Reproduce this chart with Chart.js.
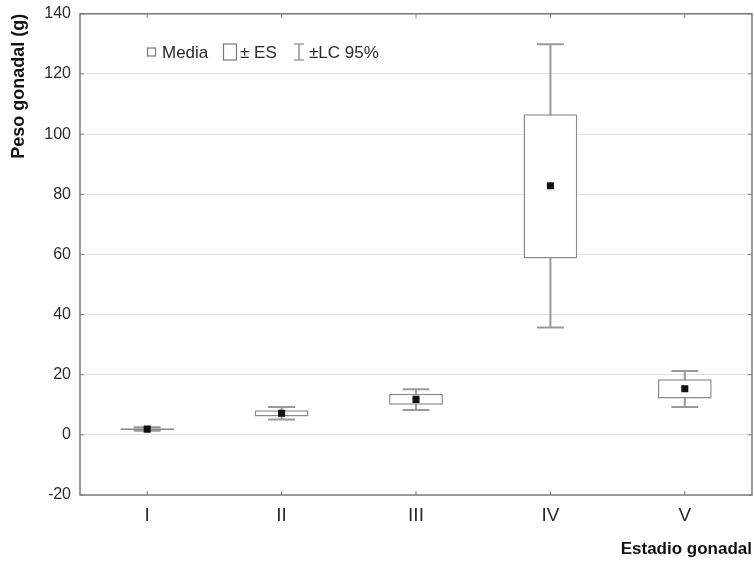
<!DOCTYPE html>
<html>
<head>
<meta charset="utf-8">
<script src="https://cdn.jsdelivr.net/npm/chart.js@4.4.1/dist/chart.umd.min.js"></script>
<style>
  body { margin: 0; background: #fff; overflow: hidden; }
  #wrap { width: 757px; height: 564px; }
</style>
</head>
<body>
<div id="wrap"><canvas id="boxChart"></canvas></div>
<script>
// stages and values (g)
const stages = ["I", "II", "III", "IV", "V"];
const mediaValues = [1.9, 7.2, 11.8, 82.8, 15.3];
const esLow = [1.6, 6.1, 10.0, 58.6, 12.1];
const esHigh = [2.2, 8.2, 13.7, 106.6, 18.5];
const lcLow = [1.4, 5.1, 8.3, 35.7, 9.3];
const lcHigh = [2.5, 9.3, 15.2, 129.9, 21.2];
const yMin = -20;
const yMax = 140;
const yStep = 20;

const lineGray = "#8a8a8a";
const textColor = "#2a2a2a";
const fontFamily = "'Liberation Sans', Arial, sans-serif";

// whiskers (±LC 95%) go behind the boxes
const whiskerPlugin = {
  id: "whiskers",
  beforeDatasetsDraw(chart) {
    const { ctx, scales: { x, y } } = chart;
    const cap = x.width / stages.length * 0.1;
    ctx.save();
    ctx.strokeStyle = "#999";
    ctx.lineWidth = 2;
    stages.forEach((s, i) => {
      const px = x.getPixelForValue(i);
      const top = y.getPixelForValue(lcHigh[i]);
      const bot = y.getPixelForValue(lcLow[i]);
      ctx.beginPath();
      ctx.moveTo(px, top); ctx.lineTo(px, bot);
      ctx.moveTo(px - cap, top); ctx.lineTo(px + cap, top);
      ctx.moveTo(px - cap, bot); ctx.lineTo(px + cap, bot);
      ctx.stroke();
    });
    ctx.restore();
  }
};

// frame, inward tick marks and the legend line inside the plot
const framePlugin = {
  id: "frame",
  afterDraw(chart) {
    const { ctx, chartArea: a, scales: { x, y } } = chart;
    ctx.save();
    ctx.strokeStyle = "#7a7a7a";
    ctx.lineWidth = 1.5;
    ctx.strokeRect(a.left, a.top, a.right - a.left, a.bottom - a.top);

    ctx.lineWidth = 1;
    ctx.beginPath();
    y.ticks.forEach(t => {
      const py = y.getPixelForValue(t.value);
      ctx.moveTo(a.left, py); ctx.lineTo(a.left + 4, py);
      ctx.moveTo(a.right, py); ctx.lineTo(a.right - 4, py);
    });
    stages.forEach((s, i) => {
      const px = x.getPixelForValue(i);
      ctx.moveTo(px, a.bottom); ctx.lineTo(px, a.bottom - 4);
      ctx.moveTo(px, a.top); ctx.lineTo(px, a.top + 4);
    });
    ctx.stroke();

    // legend
    const ly = 52;
    ctx.strokeStyle = "#777";
    ctx.lineWidth = 1.2;
    ctx.strokeRect(147.5, ly - 4, 8, 8);
    ctx.strokeRect(223.5, ly - 8, 13, 16);
    ctx.beginPath();
    ctx.moveTo(299, ly - 8); ctx.lineTo(299, ly + 8);
    ctx.moveTo(294, ly - 8); ctx.lineTo(304, ly - 8);
    ctx.moveTo(294, ly + 8); ctx.lineTo(304, ly + 8);
    ctx.stroke();
    ctx.fillStyle = textColor;
    ctx.font = "17px " + fontFamily;
    ctx.textBaseline = "middle";
    ctx.fillText("Media", 162, ly + 1);
    ctx.fillText("± ES", 240, ly + 1);
    ctx.fillText("±LC 95%", 309, ly + 1);
    ctx.restore();
  }
};

const ctx = document.getElementById("boxChart").getContext("2d");

new Chart(ctx, {
  type: "bar",
  data: {
    labels: stages,
    datasets: [
      {
        type: "line",
        label: "Media",
        data: mediaValues,
        showLine: false,
        pointStyle: "rect",
        pointRadius: 5,
        backgroundColor: "#111",
        borderColor: "#111",
        borderWidth: 0,
        order: 0
      },
      {
        label: "± ES",
        data: stages.map((s, i) => [esLow[i], esHigh[i]]),
        backgroundColor: "#fff",
        borderColor: lineGray,
        borderWidth: 1.5,
        borderSkipped: false,
        categoryPercentage: 1,
        barPercentage: 0.4,
        order: 1
      }
    ]
  },
  options: {
    responsive: true,
    maintainAspectRatio: false,
    animation: false,
    layout: { padding: { top: 0, right: 0, left: 0, bottom: 0 } },
    plugins: {
      legend: { display: false },
      tooltip: { enabled: false }
    },
    scales: {
      x: {
        grid: { display: false, drawTicks: false },
        border: { display: false },
        ticks: {
          color: textColor,
          padding: 9,
          font: { family: fontFamily, size: 19 }
        },
        title: {
          display: true,
          text: "Estadio gonadal",
          align: "end",
          color: "#111",
          padding: { top: 0, bottom: 4 },
          font: { family: fontFamily, size: 17, weight: "bold" }
        },
        afterFit(scale) { scale.height = 69; }
      },
      y: {
        min: yMin,
        max: yMax,
        ticks: {
          stepSize: yStep,
          color: textColor,
          padding: 9,
          font: { family: fontFamily, size: 16, lineHeight: 0.6 }
        },
        grid: {
          drawTicks: false,
          color: c => (c.tick && (c.tick.value === yMin || c.tick.value === yMax)) ? "rgba(0,0,0,0)" : "#e2e2e2"
        },
        border: { display: false },
        title: {
          display: true,
          text: "Peso gonadal (g)",
          align: "end",
          color: "#111",
          padding: { top: 8, bottom: 0 },
          font: { family: fontFamily, size: 18, weight: "bold" }
        },
        afterFit(scale) { scale.width = 80; }
      }
    }
  },
  plugins: [whiskerPlugin, framePlugin]
});
</script>
</body>
</html>
